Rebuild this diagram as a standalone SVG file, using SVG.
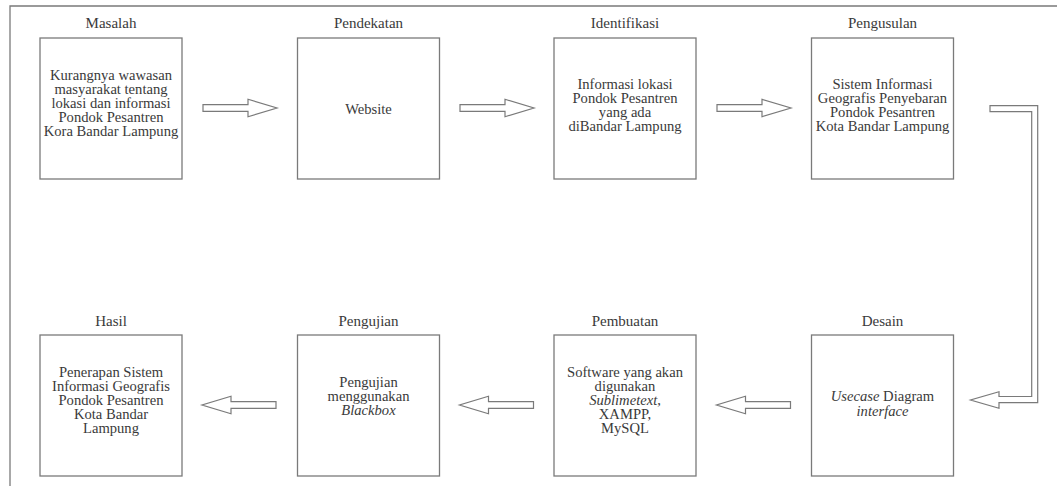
<svg xmlns="http://www.w3.org/2000/svg" xmlns:xlink="http://www.w3.org/1999/xlink" width="1057" height="486" viewBox="0 0 1057 486">
<style>
.box{fill:#fff;stroke:#7a7a7a;stroke-width:1.3}
.frame{fill:none;stroke:#7a7a7a;stroke-width:1.3}
.arr{fill:#fff;stroke:#7a7a7a;stroke-width:1.2;stroke-linejoin:miter}
text{font-family:"Liberation Serif","Times New Roman",serif;fill:#3a3a3a;text-anchor:middle}
.lbl{font-size:15px}
.body{font-size:14.6px}
.it{font-style:italic}
</style>
<defs>
<path id="rarrow" d="M0,-3.3 H45 V-8.7 L74,0 L45,8.7 V3.3 H0 Z"/>
</defs>
<rect width="1057" height="486" fill="#fff"/>
<path class="frame" d="M10,486 V6 H1057"/>

<g id="masalah">
<rect class="box" x="40" y="38" width="142" height="141"/>
<text class="lbl" x="111" y="28">Masalah</text>
<text class="body" x="111" y="80">Kurangnya wawasan</text>
<text class="body" x="111" y="94">masyarakat tentang</text>
<text class="body" x="111" y="108">lokasi dan informasi</text>
<text class="body" x="111" y="122">Pondok Pesantren</text>
<text class="body" x="111" y="136">Kora Bandar Lampung</text>
</g>
<g id="pendekatan">
<rect class="box" x="297.5" y="38" width="142" height="141"/>
<text class="lbl" x="368.5" y="28">Pendekatan</text>
<text class="body" x="368.5" y="113.5">Website</text>
</g>
<g id="identifikasi">
<rect class="box" x="554" y="38" width="142" height="141"/>
<text class="lbl" x="625" y="28">Identifikasi</text>
<text class="body" x="625" y="88.5">Informasi lokasi</text>
<text class="body" x="625" y="102.5">Pondok Pesantren</text>
<text class="body" x="625" y="116.5">yang ada</text>
<text class="body" x="625" y="130.5">diBandar Lampung</text>
</g>
<g id="pengusulan">
<rect class="box" x="811.5" y="38" width="142" height="141"/>
<text class="lbl" x="882.5" y="28">Pengusulan</text>
<text class="body" x="882.5" y="88.5">Sistem Informasi</text>
<text class="body" x="882.5" y="102.5">Geografis Penyebaran</text>
<text class="body" x="882.5" y="116.5">Pondok Pesantren</text>
<text class="body" x="882.5" y="130.5">Kota Bandar Lampung</text>
</g>

<g id="hasil">
<rect class="box" x="40" y="335" width="142" height="141"/>
<text class="lbl" x="111" y="325.5">Hasil</text>
<text class="body" x="111" y="377">Penerapan Sistem</text>
<text class="body" x="111" y="391">Informasi Geografis</text>
<text class="body" x="111" y="405">Pondok Pesantren</text>
<text class="body" x="111" y="419">Kota Bandar</text>
<text class="body" x="111" y="433">Lampung</text>
</g>
<g id="pengujian">
<rect class="box" x="297.5" y="335" width="142" height="141"/>
<text class="lbl" x="368.5" y="325.5">Pengujian</text>
<text class="body" x="368.5" y="386.5">Pengujian</text>
<text class="body" x="368.5" y="400.5">menggunakan</text>
<text class="body it" x="368.5" y="414.5">Blackbox</text>
</g>
<g id="pembuatan">
<rect class="box" x="554" y="335" width="142" height="141"/>
<text class="lbl" x="625" y="325.5">Pembuatan</text>
<text class="body" x="625" y="377">Software yang akan</text>
<text class="body" x="625" y="391">digunakan</text>
<text class="body" x="625" y="405"><tspan class="it">Sublimetext</tspan>,</text>
<text class="body" x="625" y="419">XAMPP,</text>
<text class="body" x="625" y="433">MySQL</text>
</g>
<g id="desain">
<rect class="box" x="811.5" y="335" width="142" height="141"/>
<text class="lbl" x="882.5" y="325.5">Desain</text>
<text class="body" x="882.5" y="401"><tspan class="it">Usecase</tspan> Diagram</text>
<text class="body it" x="882.5" y="416">interface</text>
</g>

<g id="connectors">
<use class="arr" xlink:href="#rarrow" href="#rarrow" transform="translate(203,108)"/>
<use class="arr" xlink:href="#rarrow" href="#rarrow" transform="translate(460,108)"/>
<use class="arr" xlink:href="#rarrow" href="#rarrow" transform="translate(717,108)"/>
<path class="arr" d="M990,105.7 H1037.7 V402.7 H999 V408.3 L970.5,400 L999,391.7 V396.5 H1031.7 V111.7 H990 Z"/>
<use class="arr" xlink:href="#rarrow" href="#rarrow" transform="translate(790.5,405) scale(-1,1)"/>
<use class="arr" xlink:href="#rarrow" href="#rarrow" transform="translate(533.5,405) scale(-1,1)"/>
<use class="arr" xlink:href="#rarrow" href="#rarrow" transform="translate(276,405) scale(-1,1)"/>
</g>
</svg>
